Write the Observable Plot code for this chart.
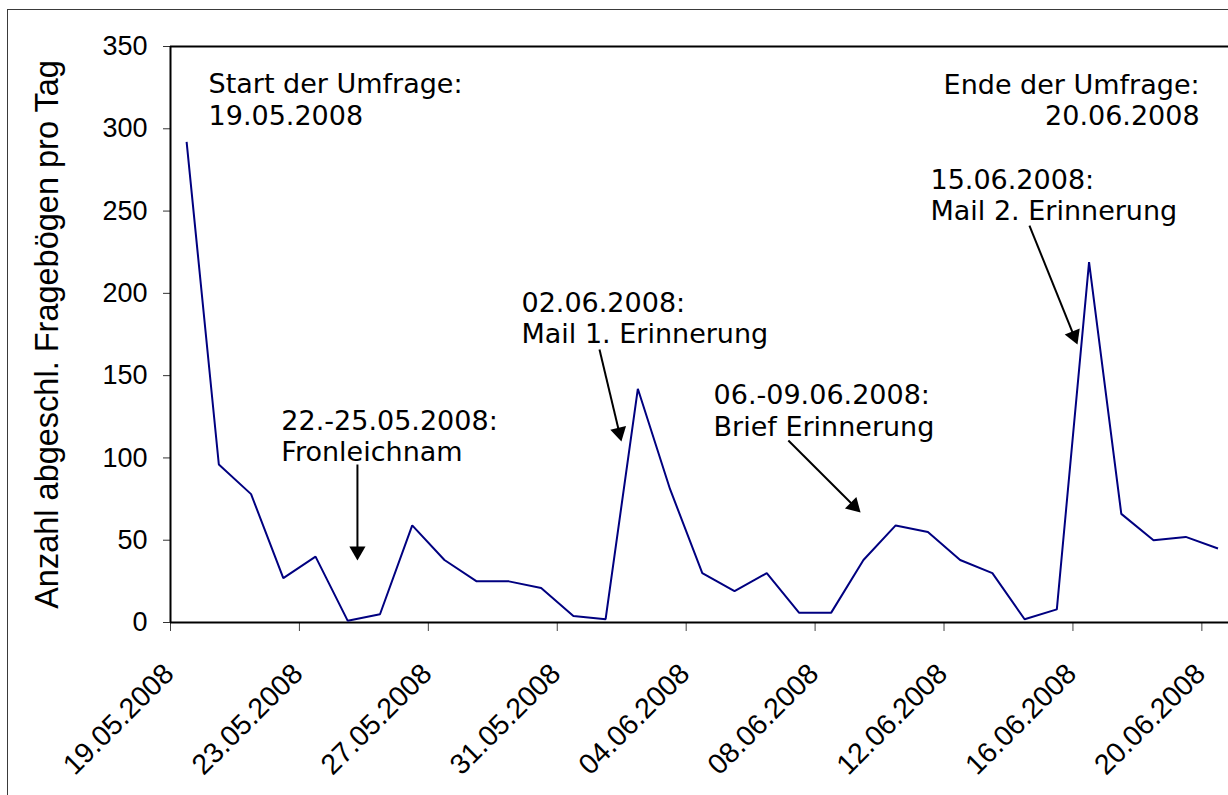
<!DOCTYPE html>
<html><head><meta charset="utf-8">
<script src="https://cdn.jsdelivr.net/npm/d3@7"></script>
<script src="https://cdn.jsdelivr.net/npm/@observablehq/plot@0.6"></script>
<style>
html,body{margin:0;padding:0;background:#fff;overflow:hidden;width:1228px;height:795px}
#wrap{position:relative;width:1228px;height:795px;overflow:hidden;background:#fff}
#border{position:absolute;left:7px;top:9px;width:1400px;height:1000px;border:1.5px solid #3a3a3a;pointer-events:none;z-index:2}
#chart svg{overflow:hidden;display:block}
</style></head><body><div id="wrap"><div id="border"></div><div id="chart"></div></div>
<script>
// ---- data ----
const days = [
  "19.05.2008","20.05.2008","21.05.2008","22.05.2008","23.05.2008","24.05.2008","25.05.2008",
  "26.05.2008","27.05.2008","28.05.2008","29.05.2008","30.05.2008","31.05.2008","01.06.2008",
  "02.06.2008","03.06.2008","04.06.2008","05.06.2008","06.06.2008","07.06.2008","08.06.2008",
  "09.06.2008","10.06.2008","11.06.2008","12.06.2008","13.06.2008","14.06.2008","15.06.2008",
  "16.06.2008","17.06.2008","18.06.2008","19.06.2008","20.06.2008"
];
const counts = [
  292, 96, 78, 27, 40, 1, 5,
  59, 38, 25, 25, 21, 4, 2,
  142, 81, 30, 19, 30, 6, 6,
  38, 59, 55, 38, 30, 2, 8,
  219, 66, 50, 52, 45
];
const xTickLabels = ["19.05.2008","23.05.2008","27.05.2008","31.05.2008","04.06.2008","08.06.2008","12.06.2008","16.06.2008","20.06.2008"];
const yTicks = [0, 50, 100, 150, 200, 250, 300, 350];
const yTitle = [{label: "Anzahl abgeschl. Fragebögen pro Tag"}];

// annotations anchored in data space (day offset from 19.05., count value)
const notesLeft = [
  {text: "Start der Umfrage:\n19.05.2008", day: 1.18, value: 302.6},
  {text: "22.-25.05.2008:\nFronleichnam", day: 3.44, value: 98.4},
  {text: "02.06.2008:\nMail 1. Erinnerung", day: 10.89, value: 170.1},
  {text: "06.-09.06.2008:\nBrief Erinnerung", day: 16.85, value: 113.6},
  {text: "15.06.2008:\nMail 2. Erinnerung", day: 23.58, value: 244.3}
];
const notesRight = [
  {text: "Ende der Umfrage:\n20.06.2008", day: 31.93, value: 302.0}
];
const arrows = [
  {day1: 5.80, value1: 96.0, day2: 5.80, value2: 37.7},
  {day1: 13.31, value1: 165.9, day2: 13.99, value2: 110.0},
  {day1: 19.17, value1: 110.6, day2: 21.41, value2: 66.8},
  {day1: 26.65, value1: 241.2, day2: 28.14, value2: 168.9}
];

// ---- scales ----
const xOpts = {type: "linear", domain: [0, days.length], range: [170, 1233.6]};
const yOpts = {type: "linear", domain: [0, 350], range: [622, 46]};
const xs = Plot.scale({x: xOpts});
const ys = Plot.scale({y: yOpts});

const heads = arrows.map(a => {
  const X1 = xs.apply(a.day1), Y1 = ys.apply(a.value1);
  const X2 = xs.apply(a.day2), Y2 = ys.apply(a.value2);
  const len = Math.hypot(X2 - X1, Y2 - Y1), ux = (X2 - X1) / len, uy = (Y2 - Y1) / len;
  return {
    day1: a.day1, value1: a.value1,
    sday: xs.invert(X2 - 11 * ux), svalue: ys.invert(Y2 - 11 * uy),
    day: xs.invert(X2 - 9.3 * ux), value: ys.invert(Y2 - 9.3 * uy),
    angle: Math.atan2(ux, -uy) * 180 / Math.PI
  };
});

const sans = "'Liberation Sans', Arial, sans-serif";
const verd = "'DejaVu Sans', Verdana, sans-serif";

const chart = Plot.plot({
  width: 1228, height: 795,
  marginLeft: 170, marginRight: 0, marginTop: 46, marginBottom: 173,
  style: {background: "transparent", color: "black"},
  x: {...xOpts, axis: null},
  y: {...yOpts, axis: null},
  marks: [
    Plot.axisY({ticks: yTicks, tickSize: 7, tickPadding: 16, fontSize: 27, fontFamily: sans, label: null, stroke: "#333", fill: "black"}),
    Plot.axisX({ticks: xTickLabels.map(d => days.indexOf(d)), tickSize: 9, tickFormat: () => "", label: null, stroke: "#444"}),
    Plot.text(xTickLabels, {x: d => days.indexOf(d), text: d => d, frameAnchor: "bottom", rotate: -45, textAnchor: "end", lineAnchor: "bottom", dx: 5, dy: 53, fontSize: 28.5, fontFamily: sans, fill: "black"}),
    Plot.text(yTitle, {text: "label", frameAnchor: "left", rotate: -90, textAnchor: "middle", lineAnchor: "bottom", dx: -113, fontSize: 32.5, fontFamily: sans, fill: "black"}),
    Plot.ruleY([350], {stroke: "black", strokeWidth: 2}),
    Plot.ruleY([0], {stroke: "black", strokeWidth: 2}),
    Plot.ruleX([0], {stroke: "black", strokeWidth: 2}),
    Plot.line(counts, {x: (d, i) => i + 0.5, y: d => d, stroke: "#000080", strokeWidth: 2, strokeLinejoin: "miter", strokeLinecap: "butt"}),
    Plot.text(notesLeft, {x: "day", y: "value", text: "text", textAnchor: "start", lineAnchor: "bottom", lineHeight: 1.15, fontSize: 27, fontFamily: verd, fill: "black"}),
    Plot.text(notesRight, {x: "day", y: "value", text: "text", textAnchor: "end", lineAnchor: "bottom", lineHeight: 1.15, fontSize: 27, fontFamily: verd, fill: "black"}),
    Plot.link(heads, {x1: "day1", y1: "value1", x2: "sday", y2: "svalue", stroke: "black", strokeWidth: 2}),
    Plot.dot(heads, {x: "day", y: "value", rotate: "angle", symbol: "triangle", r: 6, fill: "black", stroke: "none"})
  ]
});
document.getElementById("chart").appendChild(chart);
</script>
</body></html>
